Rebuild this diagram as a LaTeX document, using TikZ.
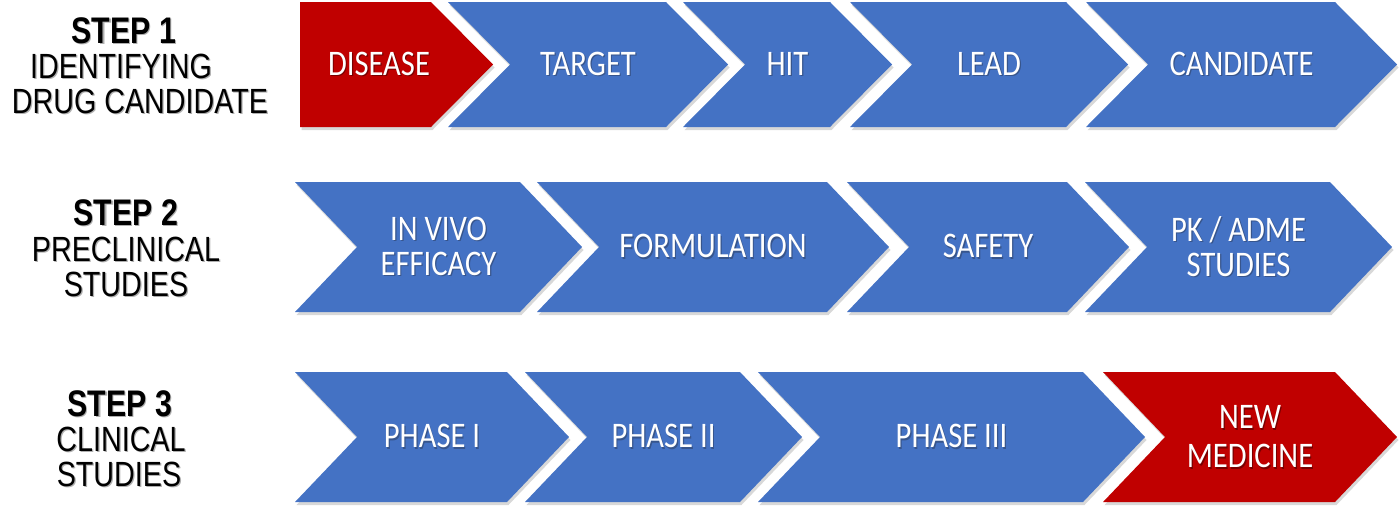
\documentclass[tikz,border=0pt]{standalone}
\usepackage{fontspec}
\usetikzlibrary{shadows}
\newfontfamily\labfont[FakeStretch=0.82]{Liberation Sans}
\newfontfamily\chevfont[FakeStretch=0.85]{Carlito}
\definecolor{cblue}{RGB}{68,114,196}
\definecolor{cred}{RGB}{192,0,0}
\definecolor{tshadow}{RGB}{175,175,175}
\definecolor{wshadow}{RGB}{55,85,140}
\definecolor{rshadow}{RGB}{120,0,0}
\newcommand{\shtext}[2]{\leavevmode\rlap{\kern1.2pt\raisebox{-1.2pt}{\textcolor{#1}{#2}}}#2}
\newcommand{\chevbody}[5]{% colour, L, R, top, bottom
  \fill[#1, chevshadow] (#2,#4) -- (#3,#4) -- ({#3+62},{(#4+#5)/2}) -- (#3,#5) -- (#2,#5) -- ({#2+62},{(#4+#5)/2}) -- cycle;}
\tikzset{
  chevshadow/.style={drop shadow={shadow xshift=1.5pt, shadow yshift=-3pt, opacity=0.3}},
  steplabel/.style={font=\labfont\fontsize{35}{35}\selectfont, anchor=base, inner sep=0pt, text=black},
  stephead/.style={steplabel, font=\labfont\bfseries\fontsize{37}{37}\selectfont},
  chevtext/.style={font=\chevfont\fontsize{36}{35}\selectfont, text=white, inner sep=0pt, align=center, anchor=center},
}
\begin{document}
\begin{tikzpicture}[x=1pt, y=-1pt]
\useasboundingbox (0,0) rectangle (1400,515);
\fill[white] (0,0) rectangle (1400,515);

% ---------- Row 1 ----------
\fill[cred, chevshadow] (300,2) -- (431,2) -- (493,64.5) -- (431,127) -- (300,127) -- cycle;
\chevbody{cblue}{448}{666}{2}{127}
\chevbody{cblue}{683}{830}{2}{127}
\chevbody{cblue}{850}{1066}{2}{127}
\chevbody{cblue}{1086}{1335}{2}{127}

\node[chevtext] (disease) at (379,64.5) {\shtext{rshadow}{DISEASE}};
\node[chevtext] (target) at (588,64.5) {\shtext{wshadow}{TARGET}};
\node[chevtext] (hit) at (787.5,64.5) {\shtext{wshadow}{HIT}};
\node[chevtext] (lead) at (989,64.5) {\shtext{wshadow}{LEAD}};
\node[chevtext] (cand) at (1241.5,64.5) {\shtext{wshadow}{CANDIDATE}};

% ---------- Row 2 ----------
\chevbody{cblue}{295}{520}{182}{312}
\chevbody{cblue}{537}{827}{182}{312}
\chevbody{cblue}{847}{1067}{182}{312}
\chevbody{cblue}{1085}{1330}{182}{312}

\node[chevtext] (invivo) at (438.5,247) {\shtext{wshadow}{IN VIVO}\\\shtext{wshadow}{EFFICACY}};
\node[chevtext] (form) at (713,247) {\shtext{wshadow}{FORMULATION}};
\node[chevtext] (safety) at (988,247) {\shtext{wshadow}{SAFETY}};
\node[chevtext] (pk) at (1238.5,247) {\shtext{wshadow}{PK / ADME}\\\shtext{wshadow}{STUDIES}};

% ---------- Row 3 ----------
\chevbody{cblue}{295}{507}{372}{502}
\chevbody{cblue}{525}{740}{372}{502}
\chevbody{cblue}{758}{1083}{372}{502}
\chevbody{cred}{1103}{1335}{372}{502}

\node[chevtext] (ph1) at (432,437) {\shtext{wshadow}{PHASE I}};
\node[chevtext] (ph2) at (663.5,437) {\shtext{wshadow}{PHASE II}};
\node[chevtext] (ph3) at (951.5,437) {\shtext{wshadow}{PHASE III}};
\node[chevtext, font=\chevfont\fontsize{36}{39}\selectfont] (newmed) at (1250,437.5) {\shtext{rshadow}{NEW}\\\shtext{rshadow}{MEDICINE}};

% ---------- Left labels ----------
\node[stephead] (s1) at (124,43) {\shtext{tshadow}{STEP 1}};
\node[steplabel] (s1a) at (121,78) {\shtext{tshadow}{IDENTIFYING}};
\node[steplabel] (s1b) at (140,113) {\shtext{tshadow}{DRUG CANDIDATE}};

\node[stephead] (s2) at (126,225) {\shtext{tshadow}{STEP 2}};
\node[steplabel] (s2a) at (126,261) {\shtext{tshadow}{PRECLINICAL}};
\node[steplabel] (s2b) at (126,296) {\shtext{tshadow}{STUDIES}};

\node[stephead] (s3) at (120,416) {\shtext{tshadow}{STEP 3}};
\node[steplabel] (s3a) at (121,451) {\shtext{tshadow}{CLINICAL}};
\node[steplabel] (s3b) at (119,486) {\shtext{tshadow}{STUDIES}};
\end{tikzpicture}
\end{document}
